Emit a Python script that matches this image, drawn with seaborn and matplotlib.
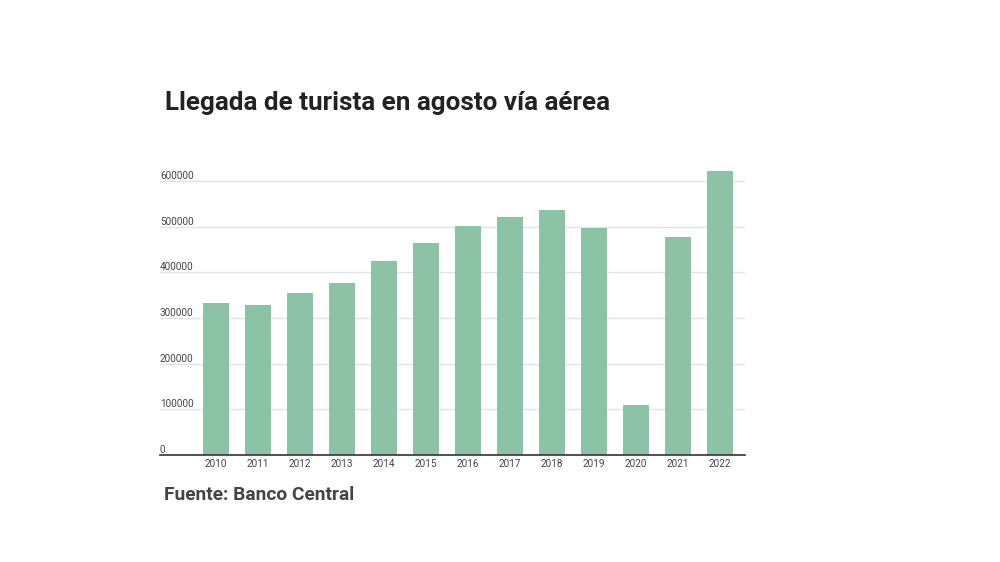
import matplotlib
matplotlib.use("Agg")
import matplotlib.pyplot as plt
import seaborn as sns
import pandas as pd

years = ["2010", "2011", "2012", "2013", "2014", "2015", "2016",
         "2017", "2018", "2019", "2020", "2021", "2022"]
arrivals = [333600, 327800, 354200, 376100, 424400, 465200, 501900,
            521000, 537000, 497500, 109700, 477000, 621900]
y_ticks = [0, 100000, 200000, 300000, 400000, 500000, 600000]
y_tick_labels = ["0", "100000", "200000", "300000", "400000", "500000", "600000"]

title = "Llegada de turista en agosto vía aérea"
source = "Fuente: Banco Central"

sns.set_theme(style="white")
plt.rcParams["font.family"] = ["Roboto", "DejaVu Sans"]

df = pd.DataFrame({"year": years, "arrivals": arrivals})

fig = plt.figure(figsize=(10, 5.62), dpi=100)
fig.patch.set_facecolor("white")
ax = fig.add_axes([0.16, 0.1909, 0.585, 0.5189])

sns.barplot(data=df, x="year", y="arrivals", color="#8cc2a6", saturation=1,
            width=0.62, ax=ax, zorder=3, linewidth=0)

ax.set_xlim(-1.33, 12.6)
ax.set_ylim(0, 640000)
ax.set_xlabel("")
ax.set_ylabel("")

ax.set_yticks(y_ticks)
ax.set_yticklabels(y_tick_labels)
ax.tick_params(axis="y", length=0, pad=0, labelsize=7.2, labelcolor="#444444")
for lab in ax.get_yticklabels():
    lab.set_horizontalalignment("left")
    lab.set_verticalalignment("bottom")
ax.tick_params(axis="x", length=0, pad=3, labelsize=7.2, labelcolor="#444444")

ax.grid(axis="y", color="#e3e3e3", linewidth=1, zorder=0)
ax.grid(axis="x", visible=False)
for s in ["top", "right", "left"]:
    ax.spines[s].set_visible(False)
ax.spines["bottom"].set_color("#333333")
ax.spines["bottom"].set_linewidth(1.2)
ax.spines["bottom"].set_zorder(4)

fig.text(0.165, 1 - 110 / 562, title, fontsize=18.7, fontweight="bold",
         color="#222222", ha="left", va="baseline")
fig.text(0.164, 1 - 500 / 562, source, fontsize=13.8, fontweight="bold",
         color="#444444", ha="left", va="baseline")

fig.savefig("out.png", dpi=100, facecolor="white")
